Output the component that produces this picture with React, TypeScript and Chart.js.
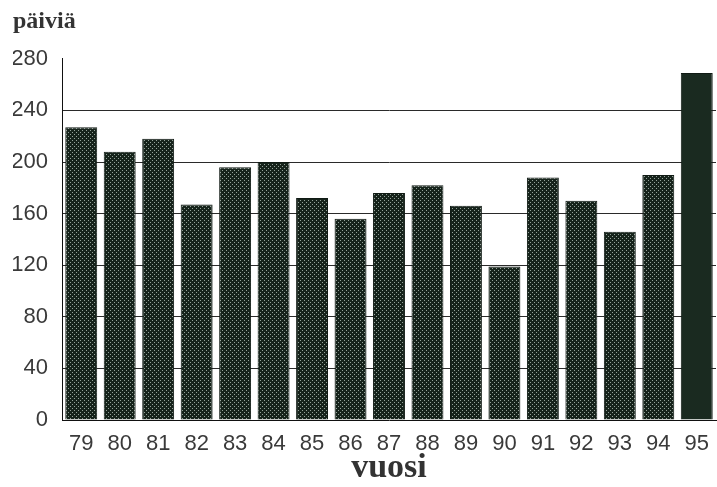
import React, { useEffect, useRef } from "react";
import { Chart, registerables } from "chart.js";

Chart.register(...registerables);

const years = ["79", "80", "81", "82", "83", "84", "85", "86", "87", "88", "89", "90", "91", "92", "93", "94", "95"];
const days = [227, 208, 218, 167, 196, 200, 172, 156, 176, 182, 166, 119, 188, 170, 146, 190, 269];
const yTicks = [0, 40, 80, 120, 160, 200, 240, 280];
const yTitle = "päiviä";
const xTitle = "vuosi";

function makePattern(): CanvasPattern | string {
  const c = document.createElement("canvas");
  c.width = 4;
  c.height = 4;
  const g = c.getContext("2d");
  if (!g) return "#1b2a21";
  g.fillStyle = "#16231b";
  g.fillRect(0, 0, 4, 4);
  g.fillStyle = "#95a39a";
  g.fillRect(0, 0, 1, 1);
  g.fillRect(2, 2, 1, 1);
  const p = g.createPattern(c, "repeat");
  return p || "#1b2a21";
}

export default function App() {
  const ref = useRef<HTMLCanvasElement | null>(null);
  useEffect(() => {
    document.body.style.margin = "0";
    if (!ref.current) return;
    const pat = makePattern();
    const bg = days.map((_, i) => (i === days.length - 1 ? "#1a2a20" : pat));
    const chart = new Chart(ref.current, {
      type: "bar",
      data: {
        labels: years,
        datasets: [
          {
            data: days,
            backgroundColor: bg as any,
            borderColor: "#101a14",
            borderWidth: 1,
            barPercentage: 0.83,
            categoryPercentage: 1,
          },
        ],
      },
      options: {
        animation: false,
        responsive: false,
        devicePixelRatio: 1,
        layout: { padding: { left: 13, right: 1, top: 0, bottom: 0 } },
        plugins: {
          legend: { display: false },
          tooltip: { enabled: false },
          title: {
            display: true,
            text: yTitle,
            align: "start",
            color: "#333333",
            font: { family: "Liberation Serif", size: 24, weight: "bold", lineHeight: 1.2 },
            padding: { top: 7, bottom: 23 },
          },
        },
        scales: {
          x: {
            grid: { display: false },
            border: { display: true, color: "#111111", width: 1 },
            afterFit: (scale: any) => {
              scale.height = 67;
            },
            ticks: {
              color: "#3a3a3a",
              font: { family: "Liberation Sans", size: 22 },
              padding: 3,
              maxRotation: 0,
              autoSkip: false,
            },
            title: {
              display: true,
              text: xTitle,
              color: "#333333",
              font: { family: "Liberation Serif", size: 34, weight: "bold", lineHeight: 1 },
              padding: { top: 0, bottom: 2 },
            },
          },
          y: {
            min: yTicks[0],
            max: yTicks[yTicks.length - 1],
            afterBuildTicks: (axis: any) => {
              axis.ticks = yTicks.map((v) => ({ value: v }));
            },
            afterFit: (scale: any) => {
              scale.width = 49;
            },
            grid: {
              drawTicks: false,
              color: (ctx: any) =>
                ctx.tick && (ctx.tick.value === 280 || ctx.tick.value === 0) ? "rgba(0,0,0,0)" : "#2a2a2a",
              lineWidth: 1,
            },
            border: { display: true, color: "#111111", width: 1 },
            ticks: {
              color: "#3a3a3a",
              font: { family: "Liberation Sans", size: 22 },
              padding: 14,
            },
          },
        },
      },
    });
    return () => chart.destroy();
  }, []);
  return (
    <div style={{ position: "absolute", left: 0, top: 0, width: 717, height: 487, background: "#ffffff" }}>
      <canvas ref={ref} width={717} height={487} style={{ width: 717, height: 487, display: "block" }} />
    </div>
  );
}
